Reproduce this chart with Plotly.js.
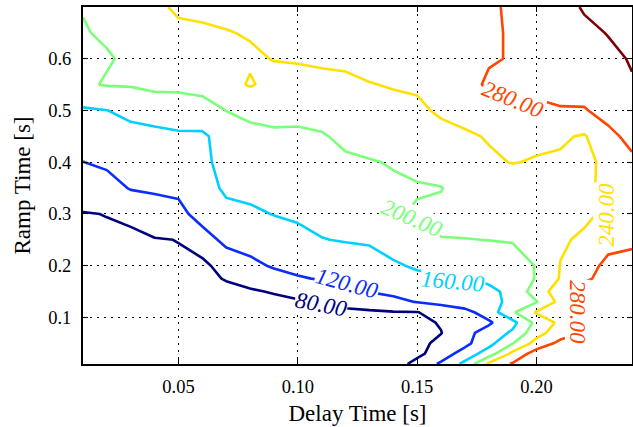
<!DOCTYPE html>
<html>
<head>
<meta charset="utf-8">
<script src="https://cdn.plot.ly/plotly-3.0.1.min.js"></script>
<style>html,body{margin:0;padding:0;background:#fff;}#chart{width:633px;height:427px;}</style>
</head>
<body>
<div id="chart"></div>
<script>
// Delay time grid (x) and ramp time grid (y)
const delayTime = [0.01,0.02,0.03,0.04,0.05,0.06,0.07,0.08,0.09,0.10,0.11,0.12,0.13,0.14,0.15,0.16,0.17,0.18,0.19,0.20,0.21,0.22,0.23,0.24];
const rampTime = [0.01,0.03,0.05,0.07,0.09,0.11,0.13,0.15,0.175,0.20,0.25,0.30,0.35,0.40,0.45,0.50,0.55,0.60,0.65,0.70];

// Values, one row per ramp time
const r001 = [50,52,54,56,58,56,56,57,58,59,60,61,62,61,92.8,125.7,170,247.5,284,290,295,298,300,302];
const r003 = [52,54,56,58,60,57,57,58,59,60,61,62,63,64,70,100.9,135.6,180,250,298,300,302,303,304];
const r005 = [54,56,58,60,62,58,58,59,60,61,63,64,65,66,70,88.6,110.3,147,198.4,255,290,295,299,302];
const r007 = [56,58,60,62,64,59,59,60,61,63,65,66,67,69,74,79,108.6,136,166.7,225.5,262,282,290,296];
const r009 = [58,60,62,64,66,60,60,61,63,66,68,70,71,73,72,82.4,98.4,114.4,148.3,211,248.9,286,292,297];
const r011 = [60,62,64,66,68,62,62,63,66,70,72,75,76,78,79,92.6,108.2,138,195,244.2,265,286,292,297];
const r013 = [62,64,66,68,70,64,64,66,71,76,79.5,88,95.7,110,121.5,132,142,152,166.3,197.8,252,286,292,296];
const r015 = [64,66,68,70,72,66,68,76,82.8,92,99.5,110.9,121.4,128.1,134,140.8,147.6,154.5,166.2,222.4,257.6,286,291,295];
const r0175 = [66.5,68.5,70.5,72,74,68,83,93,106,117,122.4,128.2,133.3,141.6,151,154.3,157.5,164.9,185.3,201.6,242.8,278,284,290];
const r020 = [69,71,72,74,76,70,98,111.3,123.8,129.3,134.6,140.2,145.2,155,164.9,172.1,179.3,186.5,193.7,200.7,241,275,283,289];
const r025 = [74,76,74,78,80.6,104,129.3,135,142.9,150.3,159,162,164.2,177,185.3,199.2,199.4,200.3,200.9,215,236,245,276,275];
const r030 = [78.6,80.6,86,103,109,135,150,154.5,161,165.3,169,173,175.6,196,204,206,209,212,215,220,226,234,246,265];
const r035 = [97,105,122.5,125,128,145,166,169,172.5,175,178.4,184,186.9,196,197,199,212,218,222,226,230,235,246,266];
const r040 = [119.5,126.6,135,138,140.6,150,175,181,184,185,187.8,195,198.2,201.8,209.4,215,222,236,241,238,236,238,242,270];
const r045 = [137.5,143,149,151.5,153.4,154,176,193,195,194.7,197.2,207,211.7,216.6,221,228,236,242,245,246,244,237,266,295];
const r050 = [155,159.5,168.6,174,184,184,200.5,206,209.4,208.6,213,220.5,225.2,231.2,233,245.5,250,254,258,268,276,276,299,310];
const r055 = [196,202,203,210,207,213,228,243,230,227.3,231.5,233.9,238.9,242,245,252,268,285,290,295,300,305,312,318];
const r060 = [197,198,204,215,223,225,226,236,241,243,245,246,250,253,256,262,270,277,282,290,298,306,314,322];
const r065 = [198.5,203,214,224,236,236,238.7,242,245,248,250,252,256,260,263,267,272,277,282,295,305,314,321,333];
const r070 = [201,212,223,236,243,246,248,250,253,256,258.5,261,264,267,270,273,276,278,282,296,310,322.5,335,347];

// Contour levels and their colours
const levels = [80,120,160,200,240,280,320];
const levelColors = ['#00007f','#0a2cff','#00d0ff','#7cff79','#ffe100','#ff4600','#7f0000'];

const xTickVals = [0.05,0.10,0.15,0.20];
const xTickText = ['0.05','0.10','0.15','0.20'];
const yTickVals = [0.1,0.2,0.3,0.4,0.5,0.6];
const yTickText = ['0.1','0.2','0.3','0.4','0.5','0.6'];

const zGrid = [r001,r003,r005,r007,r009,r011,r013,r015,r0175,r020,r025,r030,r035,r040,r045,r050,r055,r060,r065,r070];

// Inline label placement (layout only): level index, position, angle
const labelPlacement = [
  {i:0, x:0.1097, y:0.1243, a:11},
  {i:1, x:0.1206, y:0.1650, a:15},
  {i:2, x:0.1652, y:0.1690, a:5},
  {i:3, x:0.1480, y:0.2910, a:23},
  {i:4, x:0.2292, y:0.2988, a:-90},
  {i:5, x:0.1901, y:0.5216, a:22},
  {i:5, x:0.2172, y:0.1108, a:90}
];

const n = levels.length - 1;
const colorscale = levelColors.map((c,k)=>[k/n, c]);

const trace = {
  type:'contour', x: delayTime, y: rampTime, z: zGrid,
  autocontour:false,
  contours:{start:levels[0],end:levels[n],size:levels[1]-levels[0],coloring:'lines',showlabels:false},
  line:{width:2.6,smoothing:0},
  colorscale: colorscale, zauto:false, zmin:levels[0], zmax:levels[n],
  showscale:false, hoverinfo:'skip'
};

const serif = 'Liberation Serif, Times New Roman, serif';

const annotations = labelPlacement.map(p=>({
  xref:'x', yref:'y', x:p.x, y:p.y, text: levels[p.i].toFixed(2),
  showarrow:false, textangle:p.a, xanchor:'center', yanchor:'middle',
  bgcolor:'#ffffff', borderpad:0,
  font:{family:serif, size:23, color:levelColors[p.i], style:'italic'}
}));

const axisBase = {
  ticks:'inside', ticklen:5, tickwidth:1, tickcolor:'#000',
  showline:true, linecolor:'#000', linewidth:2, mirror:'allticks',
  showgrid:true, gridcolor:'#000', gridwidth:1, griddash:'2px,5px',
  zeroline:false, tickfont:{family:serif,size:18.5,color:'#000'}
};

const layout = {
  width:633, height:427,
  margin:{l:83,r:1,t:7,b:63},
  paper_bgcolor:'#fff', plot_bgcolor:'#fff',
  font:{family:serif,color:'#000'},
  showlegend:false,
  annotations: annotations,
  xaxis:Object.assign({}, axisBase, {
    range:[0.01,0.24], tickmode:'array', tickvals:xTickVals, ticktext:xTickText,
    ticklabelstandoff:5,
    title:{text:'Delay Time [s]', font:{family:serif,size:23,color:'#000'}, standoff:9}
  }),
  yaxis:Object.assign({}, axisBase, {
    range:[0.01,0.70], tickmode:'array', tickvals:yTickVals, ticktext:yTickText,
    ticklabelstandoff:6,
    title:{text:'Ramp Time [s]', font:{family:serif,size:23,color:'#000'}, standoff:11}
  })
};

Plotly.newPlot('chart',[trace],layout,{displayModeBar:false,staticPlot:true});
</script>
</body>
</html>
